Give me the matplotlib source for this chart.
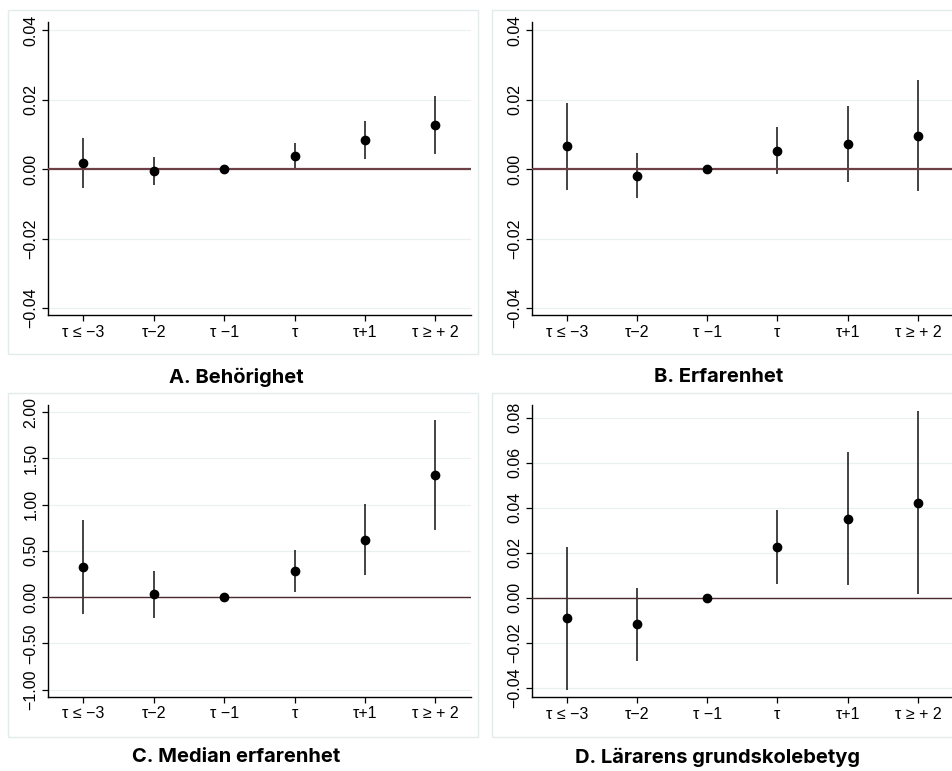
import numpy as np
import matplotlib.pyplot as plt
from matplotlib.patches import Rectangle

# x categories
labels = ['τ ≤ −3', 'τ−2', 'τ −1', 'τ', 'τ+1', 'τ ≥ + 2']

# A. Behörighet
a_est = [0.0018, -0.0007, 0.0, 0.0038, 0.0083, 0.0127]
a_lo = [-0.0054, -0.0047, 0.0, 0.0002, 0.0029, 0.0042]
a_hi = [0.0090, 0.0035, 0.0, 0.0074, 0.0138, 0.0210]

# B. Erfarenhet
b_est = [0.0066, -0.0019, 0.0, 0.0052, 0.0072, 0.0096]
b_lo = [-0.0060, -0.0082, 0.0, -0.0015, -0.0038, -0.0063]
b_hi = [0.0191, 0.0045, 0.0, 0.0121, 0.0181, 0.0255]

# C. Median erfarenhet
c_est = [0.327, 0.029, 0.0, 0.280, 0.619, 1.320]
c_lo = [-0.180, -0.230, 0.0, 0.054, 0.234, 0.720]
c_hi = [0.835, 0.280, 0.0, 0.507, 1.004, 1.914]

# D. Lärarens grundskolebetyg
d_est = [-0.0090, -0.0117, 0.0, 0.0226, 0.0352, 0.0421]
d_lo = [-0.0407, -0.0281, 0.0, 0.0061, 0.0056, 0.0015]
d_hi = [0.0226, 0.0046, 0.0, 0.0392, 0.0649, 0.0828]

titles = ['A. Behörighet', 'B. Erfarenhet', 'C. Median erfarenhet', 'D. Lärarens grundskolebetyg']
yticks_ab = [-0.04, -0.02, 0.0, 0.02, 0.04]
yticks_c = [-1.0, -0.5, 0.0, 0.5, 1.0, 1.5, 2.0]
yticks_d = [-0.04, -0.02, 0.0, 0.02, 0.04, 0.06, 0.08]

W, H = 953, 771
fig = plt.figure(figsize=(W / 100, H / 100), dpi=100)
fig.patch.set_facecolor('white')

tickfont = ['Liberation Sans', 'DejaVu Sans']
grid_col = '#e9f0f1'
border_col = '#e3ecec'


def px_axes(left, top, right, bottom):
    return fig.add_axes([left / W, 1 - bottom / H, (right - left) / W, (bottom - top) / H])


def panel(ax, est, lo, hi, yticks, ylim, zlw, zcol):
    x = np.arange(1, len(labels) + 1)
    ax.vlines(x, lo, hi, color='#111111', lw=1.1, zorder=2)
    ax.axhline(0, color=zcol, lw=zlw, zorder=3)
    ax.plot(x, est, 'o', color='black', ms=6, zorder=4)
    ax.set_xlim(0.5, 6.5)
    ax.set_ylim(*ylim)
    ax.set_yticks(yticks)
    ax.set_yticklabels(['{:.2f}'.format(v).replace('-', '−') for v in yticks],
                       rotation=90, va='center', family=tickfont, fontsize=11.5)
    ax.set_xticks(x)
    ax.set_xticklabels(labels, family=tickfont, fontsize=11.5)
    for s in ['top', 'right']:
        ax.spines[s].set_visible(False)
    for s in ['left', 'bottom']:
        ax.spines[s].set_linewidth(1.0)
        ax.spines[s].set_color('black')
    ax.tick_params(axis='both', length=4, width=0.9, color='black', pad=3)
    ax.grid(axis='y', color=grid_col, lw=0.9, zorder=0)
    ax.set_axisbelow(True)


axA = px_axes(48, 22, 470.7, 315)
axB = px_axes(531.7, 22, 953, 315)
axC = px_axes(48, 405, 470.7, 696.7)
axD = px_axes(531.7, 405, 953, 697)

panel(axA, a_est, a_lo, a_hi, yticks_ab, (-0.042, 0.0423), 1.6, '#6e3f47')
panel(axB, b_est, b_lo, b_hi, yticks_ab, (-0.042, 0.0423), 1.6, '#6e3f47')
panel(axC, c_est, c_lo, c_hi, yticks_c, (-1.076, 2.076), 1.0, '#4a2a30')
panel(axD, d_est, d_lo, d_hi, yticks_d, (-0.044, 0.0856), 1.0, '#4a2a30')

# light frames around each panel
for (l, t, r, b) in [(8, 10, 478, 354), (492, 10, 960, 354), (8, 393, 478, 737), (492, 393, 960, 737)]:
    fig.add_artist(Rectangle((l / W, 1 - b / H), (r - l) / W, (b - t) / H,
                             transform=fig.transFigure, fill=False,
                             edgecolor=border_col, lw=1.0, zorder=0))

# panel titles
for (cx, cy), t in zip([(236, 377), (719, 377), (236, 757), (718, 757)], titles):
    fig.text(cx / W, 1 - cy / H, t, ha='center', va='center',
             fontsize=14.5, fontweight='bold', family=['Inter', 'DejaVu Sans'])

fig.savefig('out.png', dpi=100)
